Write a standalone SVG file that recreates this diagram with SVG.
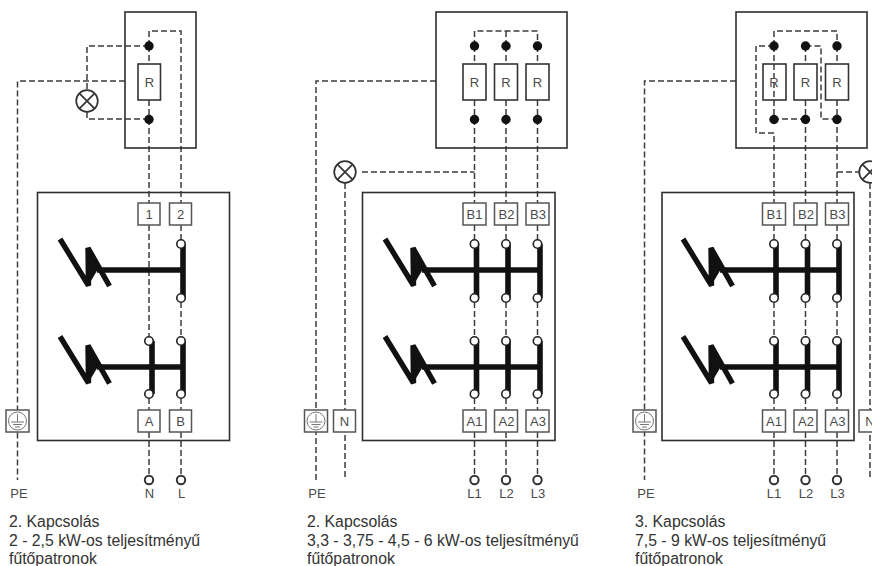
<svg xmlns="http://www.w3.org/2000/svg" width="872" height="566" viewBox="0 0 872 566">
<style>
text{font-family:"Liberation Sans",Arial,sans-serif;fill:#4a4a4a}
.lb{font-size:13px;text-anchor:middle}
.cap{font-size:15.8px;fill:#333}
.box{fill:none;stroke:#2e2e2e;stroke-width:1.6}
.t{fill:#fff;stroke:#555;stroke-width:1.5}
.r{fill:none;stroke:#333;stroke-width:1.6}
.d{fill:none;stroke:#3c3c3c;stroke-width:1.5;stroke-dasharray:6 3}
.bar{fill:none;stroke:#111;stroke-width:5.6}
.o{fill:#fff;stroke:#222;stroke-width:1.6}
.p{fill:#fff;stroke:#333;stroke-width:2}
.dot{fill:#111}
.lamp{fill:#fff;stroke:#333;stroke-width:1.7}
.e{fill:none;stroke:#777;stroke-width:1}
</style>
<defs>
<g id="bolt"><path d="M60 239L88.500 285.500L88 248L109.500 286" fill="none" stroke="#111" stroke-width="5.400" stroke-linejoin="bevel"/><path d="M88 250L88.500 285L98 269Z" fill="#111"/></g>
<g id="lamp"><circle class="lamp" r="10.800"/><path d="M-7.600-7.600L7.600 7.600M-7.600 7.600L7.600-7.600" stroke="#333" stroke-width="1.700"/></g>
<g id="earth"><rect class="t" x="-11.500" y="-11" width="23" height="22"/><circle class="e" r="9"/><path class="e" d="M0-7V1M-6.500 1H6.500M-4.500 3.500H4.500M-2.500 6H2.500"/></g>
</defs>

<g id="connectors">
<path class="d" d="M125 81H17.500V480"/>
<path class="d" d="M149 46H87V90M87 112V119H149"/>
<path class="d" d="M149 46V31H181V203"/>
<path class="d" d="M149 46V64M149 100V119"/>
<path class="d" d="M149 119V203M149 225V341M181 225V240M181 302V340M149 398V410M181 398V410M149 432V476M181 432V476"/>

<path class="d" d="M436 81H316V480"/>
<path class="d" d="M474.500 46V31H537.500V46M506 31V46"/>
<path class="d" d="M474.500 46V64M506 46V64M537.500 46V64M474.500 100V119M506 100V119M537.500 100V119"/>
<path class="d" d="M474.500 119V203M506 119V203M537.500 119V203M362 172H474.500M345 183V480"/>
<path class="d" d="M474.500 225V240M506 225V240M537.500 225V240M474.500 302V337M506 302V337M537.500 302V337M474.500 398V410M506 398V410M537.500 398V410M474.500 432V476M506 432V476M537.500 432V476"/>

<path class="d" d="M736 81H644.500V480"/>
<path class="d" d="M774 46V31H837V46"/>
<path class="d" d="M774 46H756V133H774V203"/>
<path class="d" d="M774 46V119H805.500M805.500 46V64M805.500 100V203"/>
<path class="d" d="M805.500 46H821V119H837M837 46V64M837 100V203M837 172H859M870 183V480"/>
<path class="d" d="M774 225V240M805.500 225V240M837 225V240M774 302V337M805.500 302V337M837 302V337M774 398V410M805.500 398V410M837 398V410M774 432V476M805.500 432V476M837 432V476"/>
</g>

<g id="panel-1">
<rect id="heater-1" class="box" x="125" y="12" width="71" height="136"/>
<rect class="box" x="37.500" y="192.500" width="192" height="248"/>
<g id="r-1"><rect class="r" x="138" y="64" width="22.500" height="36"/><text class="lb" x="149.500" y="87">R</text></g>
<circle class="dot" cx="149" cy="46" r="4.700"/><circle class="dot" cx="149" cy="119.500" r="4.700"/>
<g id="lamp-1"><use href="#lamp" x="87" y="101"/></g>
<g id="t-1"><rect class="t" x="138" y="203" width="22" height="22"/><text class="lb" x="149" y="219">1</text></g>
<g id="t-2"><rect class="t" x="169.500" y="203" width="22" height="22"/><text class="lb" x="180.500" y="219">2</text></g>
<g id="switch-1a">
<use href="#bolt"/>
<path class="bar" d="M97 270H183M183 244V298"/>
<circle class="o" cx="181" cy="244" r="4.200"/><circle class="o" cx="181" cy="298" r="4.200"/>
</g>
<g id="switch-1b">
<use href="#bolt" y="97.500"/>
<path class="bar" d="M97 367H183M152 341V394M183 341V394"/>
<circle class="o" cx="149" cy="341" r="4.200"/><circle class="o" cx="181" cy="341" r="4.200"/><circle class="o" cx="149" cy="394" r="4.200"/><circle class="o" cx="181" cy="394" r="4.200"/>
</g>
<g id="pe-1"><use href="#earth" x="17.500" y="421"/></g>
<g id="t-a"><rect class="t" x="138" y="410" width="22" height="22"/><text class="lb" x="149" y="426">A</text></g>
<g id="t-b"><rect class="t" x="169.500" y="410" width="22" height="22"/><text class="lb" x="180.500" y="426">B</text></g>
<circle class="p" cx="149" cy="480" r="4.200"/><circle class="p" cx="181" cy="480" r="4.200"/>
<text class="lb" x="19" y="498">PE</text><text class="lb" x="149.500" y="498">N</text><text class="lb" x="181.500" y="498">L</text>
<text class="cap" x="9" y="527">2. Kapcsolás</text>
<text class="cap" x="9" y="546">2 - 2,5 kW-os teljesítményű</text>
<text class="cap" x="9" y="564">fűtőpatronok</text>
</g>

<g id="panel-2">
<rect id="heater-2" class="box" x="436" y="12" width="131" height="136"/>
<rect class="box" x="362.500" y="192.500" width="192.500" height="248"/>
<g id="r-2a"><rect class="r" x="463" y="64" width="23" height="36"/><text class="lb" x="474.500" y="87">R</text></g>
<g id="r-2b"><rect class="r" x="494.500" y="64" width="23" height="36"/><text class="lb" x="506" y="87">R</text></g>
<g id="r-2c"><rect class="r" x="526" y="64" width="23" height="36"/><text class="lb" x="537.500" y="87">R</text></g>
<g class="dot"><circle cx="474.500" cy="46" r="4.700"/><circle cx="506" cy="46" r="4.700"/><circle cx="537.500" cy="46" r="4.700"/><circle cx="474.500" cy="119.500" r="4.700"/><circle cx="506" cy="119.500" r="4.700"/><circle cx="537.500" cy="119.500" r="4.700"/></g>
<g id="lamp-2"><use href="#lamp" x="345" y="172"/></g>
<g id="t-b1"><rect class="t" x="463" y="203" width="23" height="22"/><text class="lb" x="474.500" y="219">B1</text></g>
<g id="t-b2"><rect class="t" x="494.500" y="203" width="23" height="22"/><text class="lb" x="506.500" y="219">B2</text></g>
<g id="t-b3"><rect class="t" x="526" y="203" width="23" height="22"/><text class="lb" x="538" y="219">B3</text></g>
<g id="switch-2a">
<use href="#bolt" x="325"/>
<path class="bar" d="M422 270H540M476.500 244V298M508 244V298M540 244V298"/>
<circle class="o" cx="474.500" cy="244" r="4.200"/><circle class="o" cx="506" cy="244" r="4.200"/><circle class="o" cx="537.500" cy="244" r="4.200"/><circle class="o" cx="474.500" cy="298" r="4.200"/><circle class="o" cx="506" cy="298" r="4.200"/><circle class="o" cx="537.500" cy="298" r="4.200"/>
</g>
<g id="switch-2b">
<use href="#bolt" x="325" y="97.500"/>
<path class="bar" d="M422 367H540M476.500 341V394M508 341V394M540 341V394"/>
<circle class="o" cx="474.500" cy="341" r="4.200"/><circle class="o" cx="506" cy="341" r="4.200"/><circle class="o" cx="537.500" cy="341" r="4.200"/><circle class="o" cx="474.500" cy="394" r="4.200"/><circle class="o" cx="506" cy="394" r="4.200"/><circle class="o" cx="537.500" cy="394" r="4.200"/>
</g>
<g id="pe-2"><use href="#earth" x="316" y="421"/></g>
<g id="t-n2"><rect class="t" x="333.500" y="410" width="22" height="22"/><text class="lb" x="344.500" y="426">N</text></g>
<g id="t-a1"><rect class="t" x="463" y="410" width="23" height="22"/><text class="lb" x="474.500" y="426">A1</text></g>
<g id="t-a2"><rect class="t" x="494.500" y="410" width="23" height="22"/><text class="lb" x="506.500" y="426">A2</text></g>
<g id="t-a3"><rect class="t" x="526" y="410" width="23" height="22"/><text class="lb" x="538" y="426">A3</text></g>
<circle class="p" cx="474.500" cy="480" r="4.200"/><circle class="p" cx="506" cy="480" r="4.200"/><circle class="p" cx="537.500" cy="480" r="4.200"/>
<text class="lb" x="317" y="498">PE</text><text class="lb" x="474.500" y="498">L1</text><text class="lb" x="506.500" y="498">L2</text><text class="lb" x="538" y="498">L3</text>
<text class="cap" x="307" y="527">2. Kapcsolás</text>
<text class="cap" x="307" y="546">3,3 - 3,75 - 4,5 - 6 kW-os teljesítményű</text>
<text class="cap" x="307" y="564">fűtőpatronok</text>
</g>

<g id="panel-3">
<rect id="heater-3" class="box" x="736" y="12" width="131" height="136"/>
<rect class="box" x="662" y="192.500" width="192" height="248"/>
<g id="r-3a"><rect class="r" x="763" y="64" width="23" height="36"/><text class="lb" x="774" y="87">R</text></g>
<g id="r-3b"><rect class="r" x="794" y="64" width="23" height="36"/><text class="lb" x="805.500" y="87">R</text></g>
<g id="r-3c"><rect class="r" x="825.500" y="64" width="23" height="36"/><text class="lb" x="837" y="87">R</text></g>
<g class="dot"><circle cx="774" cy="46" r="4.700"/><circle cx="805.500" cy="46" r="4.700"/><circle cx="837" cy="46" r="4.700"/><circle cx="774" cy="119.500" r="4.700"/><circle cx="805.500" cy="119.500" r="4.700"/><circle cx="837" cy="119.500" r="4.700"/></g>
<g id="lamp-3"><use href="#lamp" x="870" y="172"/></g>
<g id="t-b1-3"><rect class="t" x="762.500" y="203" width="23" height="22"/><text class="lb" x="774.500" y="219">B1</text></g>
<g id="t-b2-3"><rect class="t" x="794" y="203" width="23" height="22"/><text class="lb" x="806" y="219">B2</text></g>
<g id="t-b3-3"><rect class="t" x="825.500" y="203" width="23" height="22"/><text class="lb" x="837.500" y="219">B3</text></g>
<g id="switch-3a">
<use href="#bolt" x="623"/>
<path class="bar" d="M720 270H839M776 244V298M807.500 244V298M839 244V298"/>
<circle class="o" cx="774" cy="244" r="4.200"/><circle class="o" cx="805.500" cy="244" r="4.200"/><circle class="o" cx="837" cy="244" r="4.200"/><circle class="o" cx="774" cy="298" r="4.200"/><circle class="o" cx="805.500" cy="298" r="4.200"/><circle class="o" cx="837" cy="298" r="4.200"/>
</g>
<g id="switch-3b">
<use href="#bolt" x="623" y="97.500"/>
<path class="bar" d="M720 367H839M776 341V394M807.500 341V394M839 341V394"/>
<circle class="o" cx="774" cy="341" r="4.200"/><circle class="o" cx="805.500" cy="341" r="4.200"/><circle class="o" cx="837" cy="341" r="4.200"/><circle class="o" cx="774" cy="394" r="4.200"/><circle class="o" cx="805.500" cy="394" r="4.200"/><circle class="o" cx="837" cy="394" r="4.200"/>
</g>
<g id="pe-3"><use href="#earth" x="644.500" y="421"/></g>
<g id="t-n3"><rect class="t" x="859" y="410" width="23" height="22"/><text class="lb" x="870" y="426">N</text></g>
<g id="t-a1-3"><rect class="t" x="762.500" y="410" width="23" height="22"/><text class="lb" x="774" y="426">A1</text></g>
<g id="t-a2-3"><rect class="t" x="794" y="410" width="23" height="22"/><text class="lb" x="806" y="426">A2</text></g>
<g id="t-a3-3"><rect class="t" x="825.500" y="410" width="23" height="22"/><text class="lb" x="837.500" y="426">A3</text></g>
<circle class="p" cx="774" cy="480" r="4.200"/><circle class="p" cx="805.500" cy="480" r="4.200"/><circle class="p" cx="837" cy="480" r="4.200"/>
<text class="lb" x="646" y="498">PE</text><text class="lb" x="774" y="498">L1</text><text class="lb" x="806" y="498">L2</text><text class="lb" x="837.500" y="498">L3</text>
<text class="cap" x="635" y="527">3. Kapcsolás</text>
<text class="cap" x="635" y="546">7,5 - 9 kW-os teljesítményű</text>
<text class="cap" x="635" y="564">fűtőpatronok</text>
</g>
</svg>
